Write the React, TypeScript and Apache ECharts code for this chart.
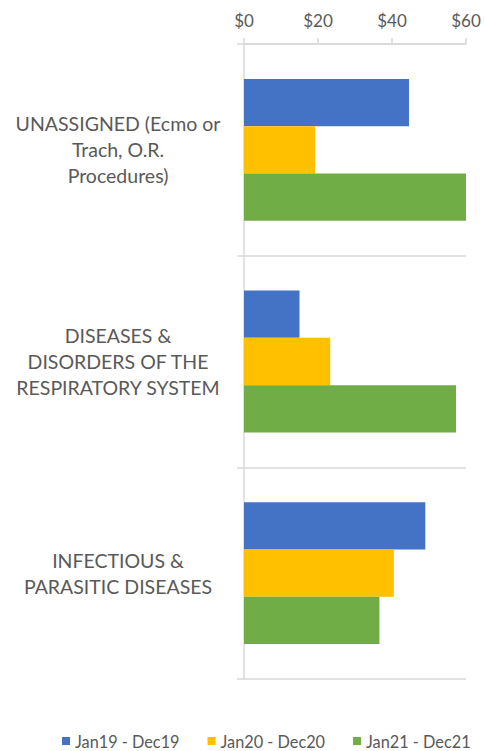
import React, { useEffect, useRef } from "react";
import * as echarts from "echarts";

const categories = [
  "UNASSIGNED (Ecmo or\nTrach, O.R.\nProcedures)",
  "DISEASES &\nDISORDERS OF THE\nRESPIRATORY SYSTEM",
  "INFECTIOUS &\nPARASITIC DISEASES",
];
const seriesNames = ["Jan19 - Dec19", "Jan20 - Dec20", "Jan21 - Dec21"];
const jan19 = [44.6, 15, 49];
const jan20 = [19.2, 23.3, 40.5];
const jan21 = [60, 57.3, 36.6];
const colors = ["#4472C4", "#FFC000", "#70AD47"];
const xTicks = { min: 0, max: 60, interval: 20 };

export default function App() {
  const ref = useRef<HTMLDivElement>(null);
  useEffect(() => {
    if (!ref.current) return;
    const chart = echarts.init(ref.current, undefined, { renderer: "svg" });
    const font = "Lato, 'Open Sans', sans-serif";
    const textColor = "#595959";
    const lineColor = "#d9d9d9";
    const values = [jan19, jan20, jan21];
    chart.setOption({
      animation: false,
      textStyle: { fontFamily: font },
      grid: { left: 244, top: 44, right: 19, bottom: 72, containLabel: false },
      legend: {
        top: 728,
        left: 57,
        itemWidth: 8,
        itemHeight: 8,
        itemGap: 28,
        icon: "rect",
        textStyle: { color: textColor, fontSize: 16.3, fontFamily: font },
        data: seriesNames,
      },
      xAxis: {
        type: "value",
        position: "top",
        min: xTicks.min,
        max: xTicks.max,
        interval: xTicks.interval,
        axisLine: { show: true, lineStyle: { color: lineColor, width: 1.5 } },
        axisTick: { show: true, length: 6, lineStyle: { color: lineColor, width: 1.5 } },
        splitLine: { show: false },
        axisLabel: {
          color: textColor,
          fontSize: 17,
          fontFamily: font,
          margin: 15,
          formatter: (v: number) => "$" + v,
        },
      },
      yAxis: {
        type: "category",
        inverse: true,
        data: categories,
        axisLine: { show: true, lineStyle: { color: lineColor, width: 1.5 } },
        axisTick: { show: true, length: 7, lineStyle: { color: lineColor, width: 1.5 } },
        splitLine: { show: true, lineStyle: { color: lineColor, width: 1.5 } },
        axisLabel: {
          color: textColor,
          fontSize: 19.5,
          fontFamily: font,
          lineHeight: 26,
          align: "center",
          margin: 126,
          padding: [0, 0, 4, 0],
        },
      },
      series: seriesNames.map((name, i) => ({
        name,
        type: "bar",
        data: values[i],
        barGap: "0%",
        barCategoryGap: "33%",
        itemStyle: { color: colors[i] },
      })),
    });
    return () => chart.dispose();
  }, []);
  return <div ref={ref} style={{ width: 485, height: 751, position: "absolute", left: 0, top: 0 }} />;
}
